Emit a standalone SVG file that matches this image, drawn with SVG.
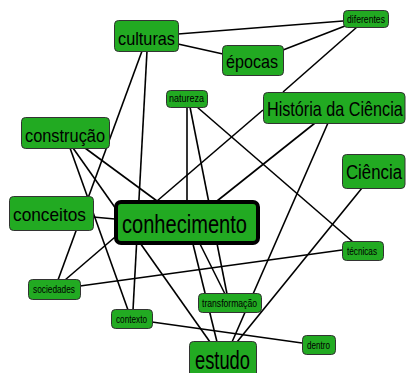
<svg xmlns="http://www.w3.org/2000/svg" width="407" height="373" viewBox="0 0 407 373">
<style>
.e{stroke:#000;stroke-width:1.6;fill:none}
.n{fill:#22aa22;stroke:#333;stroke-width:1}
.k{fill:#22aa22;stroke:#000;stroke-width:4}
text{font-family:"Liberation Sans",Arial,sans-serif;fill:#000}
.s{font-size:11px}
.m{font-size:18.5px}
.b{font-size:25px}
</style>
<rect width="407" height="373" fill="#fff"/>
<g id="connectors">
<line class="e" x1="178" y1="34" x2="343" y2="21"/>
<line class="e" x1="178" y1="44" x2="223" y2="54"/>
<line class="e" x1="283" y1="50" x2="345" y2="26"/>
<line class="e" x1="357" y1="27" x2="283" y2="92"/>
<line class="e" x1="142" y1="51" x2="58" y2="280"/>
<line class="e" x1="147" y1="51" x2="133" y2="310"/>
<line class="e" x1="187" y1="107" x2="187" y2="201"/>
<line class="e" x1="190" y1="107" x2="227" y2="294"/>
<line class="e" x1="197" y1="107" x2="353" y2="242"/>
<line class="e" x1="263" y1="110" x2="65" y2="280"/>
<line class="e" x1="315" y1="123" x2="217" y2="201"/>
<line class="e" x1="328" y1="123" x2="232" y2="342"/>
<line class="e" x1="362" y1="188" x2="237" y2="342"/>
<line class="e" x1="70" y1="148" x2="128" y2="310"/>
<line class="e" x1="73" y1="148" x2="210" y2="342"/>
<line class="e" x1="85" y1="148" x2="157" y2="201"/>
<line class="e" x1="93" y1="217" x2="115" y2="219"/>
<line class="e" x1="80" y1="286" x2="342" y2="250"/>
<line class="e" x1="152" y1="322" x2="302" y2="343"/>
<line class="e" x1="200" y1="244" x2="225" y2="294"/>
<line class="e" x1="193" y1="244" x2="217" y2="342"/>
</g>
<g id="culturas"><rect class="n" x="114.5" y="20.5" width="64" height="31" rx="4"/><text class="m" x="118" y="45" textLength="57" lengthAdjust="spacingAndGlyphs">culturas</text></g>
<g id="epocas"><rect class="n" x="222.5" y="45.5" width="61" height="30" rx="4"/><text class="m" x="226" y="68" textLength="52" lengthAdjust="spacingAndGlyphs">épocas</text></g>
<g id="diferentes"><rect class="n" x="343.5" y="10.5" width="45" height="17" rx="4"/><text class="s" x="347" y="23" textLength="38" lengthAdjust="spacingAndGlyphs">diferentes</text></g>
<g id="natureza"><rect class="n" x="166.5" y="90.5" width="41" height="17" rx="4"/><text class="s" x="169" y="102" textLength="35" lengthAdjust="spacingAndGlyphs">natureza</text></g>
<g id="historia"><rect class="n" x="263.5" y="92.5" width="141.5" height="31" rx="4"/><text x="0" y="0" font-size="19.5" transform="translate(267 116) scale(0.83 1)">História da Ciência</text></g>
<g id="ciencia"><rect class="n" x="342.5" y="154.5" width="62.5" height="34" rx="4"/><text x="0" y="0" font-size="21" transform="translate(346 179) scale(0.8 1)">Ciência</text></g>
<g id="tecnicas"><rect class="n" x="342.5" y="241.5" width="41" height="19" rx="4"/><text class="s" x="347" y="255" textLength="30" lengthAdjust="spacingAndGlyphs">técnicas</text></g>
<g id="construcao"><rect class="n" x="21.5" y="117.5" width="88" height="31" rx="4"/><text class="m" x="25" y="142" textLength="80" lengthAdjust="spacingAndGlyphs">construção</text></g>
<g id="conceitos"><rect class="n" x="9.5" y="196.5" width="84" height="34" rx="4"/><text class="m" x="13" y="221" textLength="73" lengthAdjust="spacingAndGlyphs">conceitos</text></g>
<g id="conhecimento"><rect class="k" x="116" y="202" width="142" height="41" rx="5"/><text class="b" x="122" y="233" textLength="125" lengthAdjust="spacingAndGlyphs">conhecimento</text></g>
<g id="sociedades"><rect class="n" x="28.5" y="279.5" width="52" height="20" rx="4"/><text class="s" x="33" y="293" textLength="42" lengthAdjust="spacingAndGlyphs">sociedades</text></g>
<g id="contexto"><rect class="n" x="111.5" y="309.5" width="41" height="19" rx="4"/><text class="s" x="116" y="323" textLength="31" lengthAdjust="spacingAndGlyphs">contexto</text></g>
<g id="transformacao"><rect class="n" x="198.5" y="293.5" width="63" height="19" rx="4"/><text class="s" x="202" y="307" textLength="55" lengthAdjust="spacingAndGlyphs">transformação</text></g>
<g id="dentro"><rect class="n" x="302.5" y="335.5" width="33" height="19" rx="4"/><text class="s" x="307" y="349" textLength="23" lengthAdjust="spacingAndGlyphs">dentro</text></g>
<g id="estudo"><rect class="n" x="189.5" y="341.5" width="67" height="40" rx="4"/><text class="b" x="195" y="369" textLength="55" lengthAdjust="spacingAndGlyphs">estudo</text></g>
</svg>
